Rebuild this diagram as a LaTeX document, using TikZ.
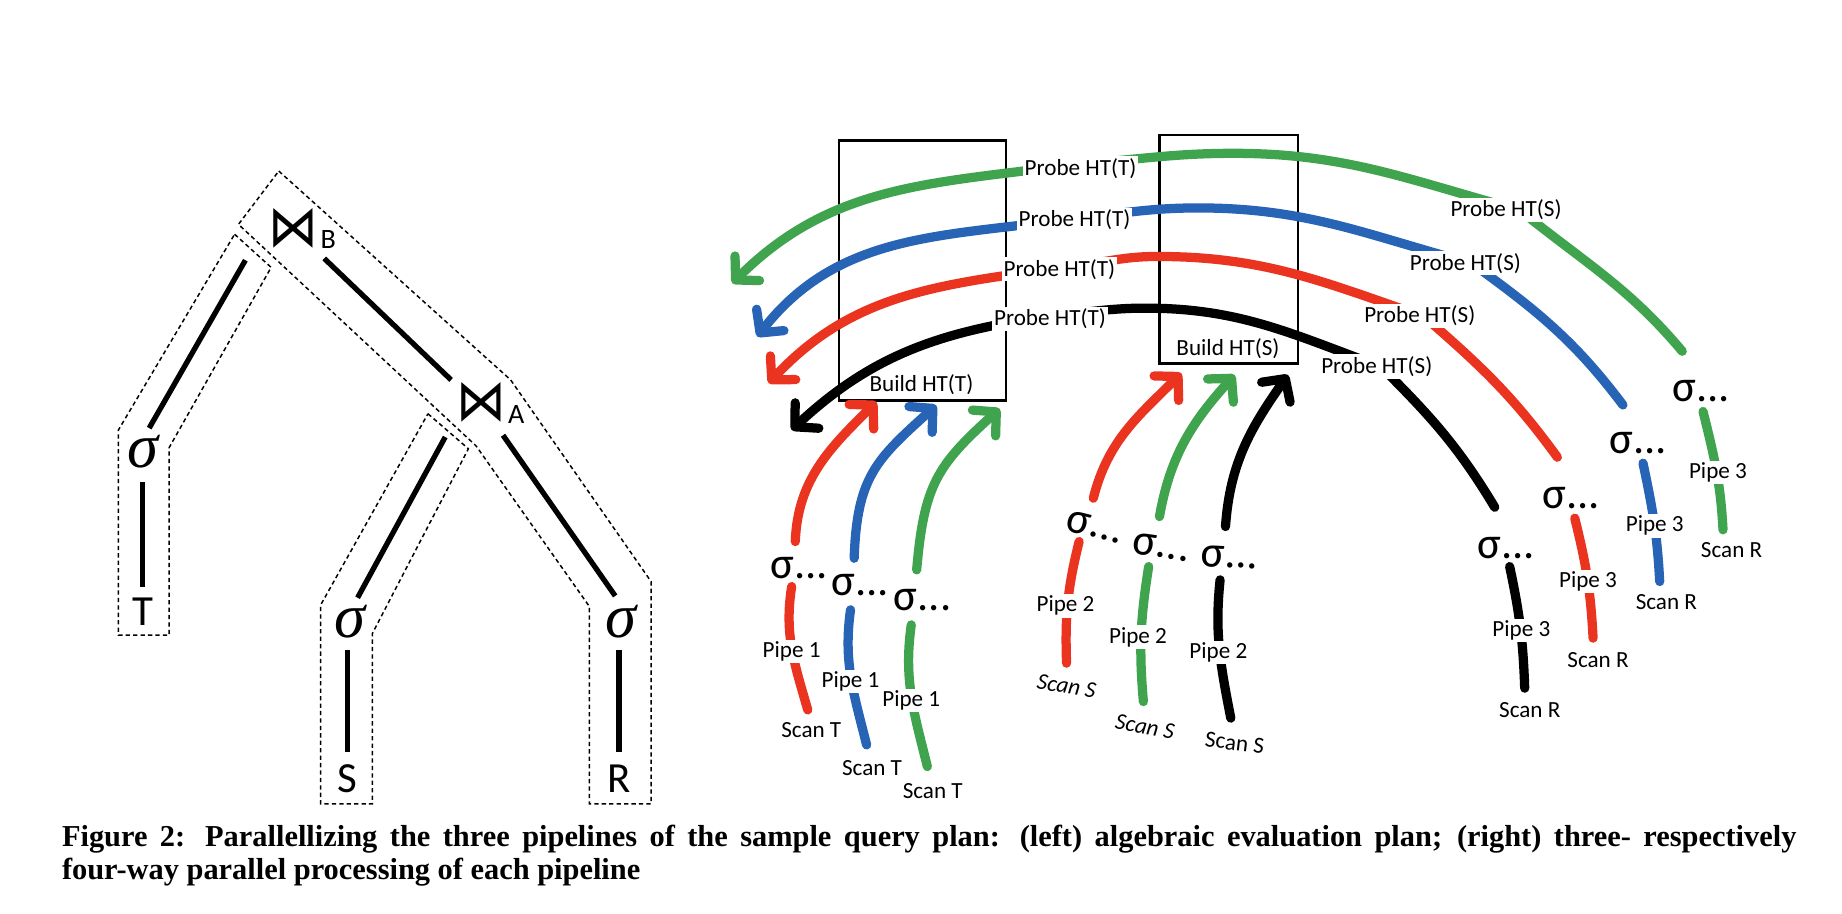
\documentclass[tikz,border=0pt]{standalone}
\usepackage{fontspec}
\setmainfont{Carlito}
\newfontfamily\capfont{Liberation Serif}
\newfontfamily\djv{DejaVu Sans}
\usetikzlibrary{arrows.meta}
\definecolor{cgreen}{RGB}{64,163,78}
\definecolor{cblue}{RGB}{40,100,182}
\definecolor{cred}{RGB}{234,52,32}
\begin{document}
\begin{tikzpicture}[x=0.025cm,y=-0.025cm,
  lbl/.style={font=\fontsize{14}{16}\selectfont, fill=white, inner sep=1.2pt},
  plainlbl/.style={font=\fontsize{14}{16}\selectfont, inner sep=0pt},
  sig/.style={font=\fontsize{27}{30}\selectfont, inner sep=0pt, anchor=west},
  pipe/.style={line width=5.6pt, line cap=round},
  arr/.style={pipe, -{Straight Barb[length=10pt,width=21pt,round]}},
  treeline/.style={line width=3.2pt},
  outline/.style={line width=0.9pt, dash pattern=on 2.6pt off 1.9pt},
  htbox/.style={draw, line width=1.4pt, inner sep=0pt},
  bigletter/.style={font=\fontsize{26}{30}\selectfont, inner sep=0pt},
  subletter/.style={font=\fontsize{17}{20}\selectfont, inner sep=0pt},
  joinsym/.style={font=\djv\fontsize{35}{38}\selectfont, inner sep=0pt},
  treesig/.style={font=\capfont\itshape\fontsize{38}{40}\selectfont, inner sep=0pt},
]
\useasboundingbox (0,0) rectangle (1568,778);

% ---------------- left: algebraic plan ----------------
\draw[outline] (237.3,145.6) -- (434.7,323.4) -- (554.2,495) -- (554.2,684.3) -- (501.8,684.3) -- (501.8,516.4) -- (405.3,379.6) -- (203,191) -- cycle;
\draw[outline] (199.7,199.4) -- (230.8,227.6) -- (144,381) -- (144,540.7) -- (100.8,540.7) -- (100.8,366) -- cycle;
\draw[outline] (364.3,352.2) -- (398.7,382) -- (317,539.2) -- (317,684.3) -- (273,684.3) -- (273,514.9) -- cycle;

\node[joinsym] (jB) at (249.4,194.5) {\scalebox{0.86}[1]{⋈}};
\node[subletter] (jBl) at (279.5,203.6) {B};
\node[joinsym] (jA) at (409.8,342.2) {\scalebox{0.86}[1]{⋈}};
\node[subletter] (jAl) at (439.5,352.5) {A};
\node[treesig] (sT) at (122.1,384.2) {σ};
\node[bigletter] (tT) at (121.5,521) {T};
\node[treesig] (sS) at (297.9,529) {σ};
\node[bigletter] (tS) at (296,663) {S};
\node[treesig] (sR) at (529,529) {σ};
\node[bigletter] (tR) at (527,663) {R};

\draw[treeline] ([shift={(-40.5,27)}]jB.center) -- ([shift={(4.9,-19.8)}]sT.center);
\draw[treeline] ([shift={(-0.6,25.8)}]sT.center) -- ([shift={(0,-21.3)}]tT.center);
\draw[treeline] ([shift={(26.6,25.5)}]jB.center) -- ([shift={(-25.8,-18.8)}]jA.center);
\draw[treeline] ([shift={(-30.8,29.8)}]jA.center) -- ([shift={(6.5,-20.2)}]sS.center);
\draw[treeline] ([shift={(-1.9,24)}]sS.center) -- ([shift={(0,-23)}]tS.center);
\draw[treeline] ([shift={(18.4,28.3)}]jA.center) -- ([shift={(-5.3,-21.7)}]sR.center);
\draw[treeline] ([shift={(-2,24)}]sR.center) -- ([shift={(0,-23)}]tR.center);

% ---------------- right: hash table boxes ----------------
\node[htbox, minimum width=3.5625cm, minimum height=5.53cm] (hT) at (785.25,230.35) {};
\node[htbox, minimum width=2.95cm, minimum height=4.865cm] (hS) at (1046,212.2) {};
\node[plainlbl] (bT) at (784.4,327.7) {Build HT(T)};
\node[plainlbl] (bS) at (1045.3,296.4) {Build HT(S)};

% way points of the probe curves
\coordinate (gP) at (1432,299);     \coordinate (gS) at (1293.5,178.7); \coordinate (gTop) at (1050,130.5); \coordinate (gT) at (918,139.5);   \coordinate (gA) at (623.4,241.1);
\coordinate (bP) at (1381.5,344.7); \coordinate (bS) at (1252.9,224.1); \coordinate (bTop) at (1020,177);   \coordinate (bT) at (914.7,186);   \coordinate (bA) at (644.6,286.5);
\coordinate (rP) at (1325.7,389.2); \coordinate (rS) at (1212.3,269.5); \coordinate (rTop) at (985,218.3);  \coordinate (rT) at (901.8,228);   \coordinate (rA) at (654.3,326.2);
\coordinate (kP) at (1272.4,431.8); \coordinate (kS) at (1175.5,312);   \coordinate (kTop) at (975,262.3);  \coordinate (kT) at (893.8,269);   \coordinate (kA) at (673.8,366);

% probe curves (pipe 3 -> probe S -> probe T)
\draw[arr,cgreen] (gP) to[out=130,in=321] (gS) to[out=165,in=0] (gTop) to[out=180,in=4] (gT) to[out=188,in=45] (gA);
\draw[arr,cblue]  (bP) to[out=127,in=324] (bS) to[out=165,in=0] (bTop) to[out=180,in=6] (bT) to[out=188,in=52] (bA);
\draw[arr,cred]   (rP) to[out=126,in=319] (rS) to[out=161,in=0] (rTop) to[out=180,in=5] (rT) to[out=188,in=47] (rA);
\draw[arr,black]  (kP) to[out=121,in=315] (kS) to[out=160,in=0] (kTop) to[out=180,in=5] (kT) to[out=188,in=43] (kA);

% build curves pipe 1
\coordinate (r1s) at (677,461);     \coordinate (r1t) at (746,342);
\coordinate (b1s) at (727.1,475.2); \coordinate (b1t) at (797,345);
\coordinate (g1s) at (780.3,485.1); \coordinate (g1t) at (851,348);
\draw[arr,cred]   (r1s) to[out=88,in=225] (r1t);
\draw[arr,cblue]  (b1s) to[out=88,in=222,looseness=1.2] (b1t);
\draw[arr,cgreen] (g1s) to[out=85,in=222,looseness=1.2] (g1t);

% build curves pipe 2
\coordinate (r2s) at (930.7,424.1);  \coordinate (r2t) at (1005.6,317.7);
\coordinate (g2s) at (987,439.7);    \coordinate (g2t) at (1051,319.1);
\coordinate (k2s) at (1043.2,448.2); \coordinate (k2t) at (1096.4,319.1);
\draw[arr,cred]   (r2s) to[out=76,in=225] (r2t);
\draw[arr,cgreen] (g2s) to[out=80,in=228] (g2t);
\draw[arr,black]  (k2s) to[out=86,in=235] (k2t);

% lower pipe segments (scan -> sigma)
\draw[pipe,cred]   (673.9,499.3) to[out=261,in=106] (687.6,604.3);
\draw[pipe,cblue]  (724,519.1) to[out=262,in=104] (737.7,634.1);
\draw[pipe,cgreen] (775.7,531.9) to[out=262,in=104] (789.4,652.5);
\draw[pipe,cred]   (918.6,461) to[out=256,in=92] (907.9,564.5);
\draw[pipe,cgreen] (977.8,482.3) to[out=261,in=95] (973.3,597.2);
\draw[pipe,black]  (1038.6,493.6) to[out=264,in=101] (1047.7,611.3);
\draw[pipe,black]  (1285.1,482.3) to[out=282,in=92] (1297.9,585.8);
\draw[pipe,cred]   (1340.5,441.1) to[out=284,in=93] (1356.1,543.2);
\draw[pipe,cblue]  (1398.6,394.3) to[out=282,in=93] (1412.8,495);
\draw[pipe,cgreen] (1449.7,350.3) to[out=284,in=93] (1466.7,451);

% probe labels
\node[lbl] (pgT) at (919.8,143.2) {Probe HT(T)};
\node[lbl] (pbT) at (914.7,187.2) {Probe HT(T)};
\node[lbl] (prT) at (901.8,229.2) {Probe HT(T)};
\node[lbl] (pkT) at (893.8,271.5) {Probe HT(T)};
\node[lbl] (pgS) at (1282,178.7) {Probe HT(S)};
\node[lbl] (pbS) at (1247.4,224.1) {Probe HT(S)};
\node[lbl] (prS) at (1208.6,268.9) {Probe HT(S)};
\node[lbl] (pkS) at (1172,312) {Probe HT(S)};

% pipe labels
\node[lbl] (q1r) at (673.9,554.6) {Pipe 1};
\node[lbl] (q1b) at (724,580) {Pipe 1};
\node[lbl] (q1g) at (775.7,596.3) {Pipe 1};
\node[lbl] (q2r) at (907,515.7) {Pipe 2};
\node[lbl] (q2g) at (968.7,542.4) {Pipe 2};
\node[lbl] (q2k) at (1037.1,555.5) {Pipe 2};
\node[lbl] (q3k) at (1295.1,536.7) {Pipe 3};
\node[lbl] (q3r) at (1351.8,495) {Pipe 3};
\node[lbl] (q3b) at (1408.6,447.6) {Pipe 3};
\node[lbl] (q3g) at (1462.4,402.3) {Pipe 3};

% scan labels
\node[plainlbl] (c1r) at (690.6,621.3) {Scan T};
\node[plainlbl] (c1b) at (742.3,653.9) {Scan T};
\node[plainlbl] (c1g) at (794,673.8) {Scan T};
\node[plainlbl, rotate=-10] (c2r) at (907.9,584) {\itshape Scan S};
\node[plainlbl, rotate=-10] (c2g) at (974.6,618.4) {\itshape Scan S};
\node[plainlbl, rotate=-7] (c2k) at (1051,632.3) {Scan S};
\node[plainlbl] (c3k) at (1302.2,604.2) {Scan R};
\node[plainlbl] (c3r) at (1360.3,561.7) {Scan R};
\node[plainlbl] (c3b) at (1418.5,512.9) {Scan R};
\node[plainlbl] (c3g) at (1474,468) {Scan R};

% sigma labels
\node[sig] (s1r) at (655.8,483.7) {σ...};
\node[sig] (s1b) at (707.5,497.9) {σ...};
\node[sig] (s1g) at (760.6,510.6) {σ...};
\node[sig, rotate=-14] (s2r) at (908,442.5) {σ...};
\node[sig, rotate=-8] (s2g) at (964,462.4) {σ...};
\node[sig, rotate=-3] (s2k) at (1022,473) {σ...};
\node[sig] (s3k) at (1257.6,466.6) {σ...};
\node[sig] (s3r) at (1312.9,424.1) {σ...};
\node[sig] (s3b) at (1369.7,377.3) {σ...};
\node[sig] (s3g) at (1423.5,333.3) {σ...};

% caption
\node[anchor=base west, inner sep=0pt, text width=36.9cm, align=justify,
      font=\capfont\bfseries\fontsize{18.4}{20.1}\selectfont,
      execute at begin node={\hyphenpenalty=10000\exhyphenpenalty=10000\tolerance=10000}]
  (cap) at (52.5,720.6) {Figure 2: Parallellizing the three pipelines of the sample query plan: (left) algebraic evaluation plan; (right) three- respectively\linebreak four-way parallel processing of each pipeline};
\end{tikzpicture}
\end{document}
